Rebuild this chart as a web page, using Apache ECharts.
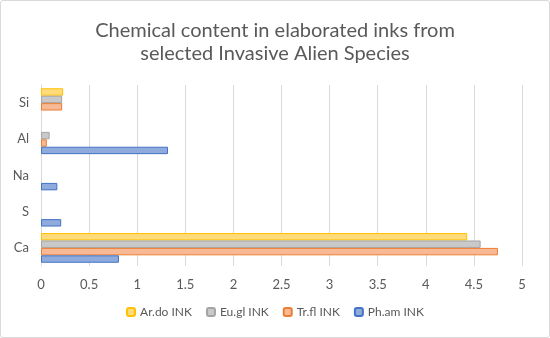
<!DOCTYPE html>
<html><head><meta charset="utf-8">
<script src="https://cdn.jsdelivr.net/npm/echarts@6/dist/echarts.min.js"></script>
<style>
html,body{margin:0;padding:0;background:#fff;}
#c{position:absolute;left:0;top:0;width:548px;height:336px;border:1px solid #d9d9d9;border-radius:3px;}
</style></head><body>
<div id="c"></div>
<script>
const categories = ['Ca', 'S', 'Na', 'Al', 'Si'];
const phAm = [0.81, 0.21, 0.17, 1.32, null];
const trFl = [4.75, null, null, 0.06, 0.22];
const euGl = [4.57, null, null, 0.09, 0.22];
const arDo = [4.43, null, null, null, 0.23];
const xTicks = [0, 0.5, 1, 1.5, 2, 2.5, 3, 3.5, 4, 4.5, 5];

const chart = echarts.init(document.getElementById('c'), null, {renderer: 'canvas'});
const font = "Lato, 'Open Sans', sans-serif";
function s(name, data, fill, stroke) {
  return {name, type: 'bar', data, barGap: '0%', barCategoryGap: '18%',
    itemStyle: {color: fill, borderColor: stroke, borderWidth: 1}};
}
chart.setOption({
  animation: false,
  textStyle: {fontFamily: font},
  title: {text: 'Chemical content in elaborated inks from\nselected Invasive Alien Species', left: 'center', top: 13,
    textStyle: {fontFamily: font, fontSize: 20, fontWeight: 'normal', color: '#595959', lineHeight: 23}},
  grid: {left: 40, right: 27, top: 84, bottom: 71, containLabel: false},
  legend: {bottom: 14, left: 'center', itemWidth: 8, itemHeight: 8, itemGap: 14,
    data: ['Ar.do INK', 'Eu.gl INK', 'Tr.fl INK', 'Ph.am INK'],
    textStyle: {color: '#595959', fontSize: 12, fontFamily: font}},
  xAxis: {type: 'value', min: 0, max: 5, interval: 0.5,
    axisLine: {show: false}, axisTick: {show: false},
    splitLine: {lineStyle: {color: '#d9d9d9'}},
    axisLabel: {color: '#595959', fontSize: 13, margin: 12, formatter: v => xTicks.includes(v) ? String(v) : ''}},
  yAxis: {type: 'category', data: categories,
    axisLine: {show: true, lineStyle: {color: '#d9d9d9'}}, axisTick: {show: false},
    axisLabel: {color: '#595959', fontSize: 13, margin: 12}},
  series: [
    s('Ar.do INK', arDo, '#ffdb7a', '#ffc000'),
    s('Eu.gl INK', euGl, '#c9c9c9', '#a5a5a5'),
    s('Tr.fl INK', trFl, '#f8b996', '#ed7d31'),
    s('Ph.am INK', phAm, '#8faadc', '#4472c4')
  ]
});
</script></body></html>
